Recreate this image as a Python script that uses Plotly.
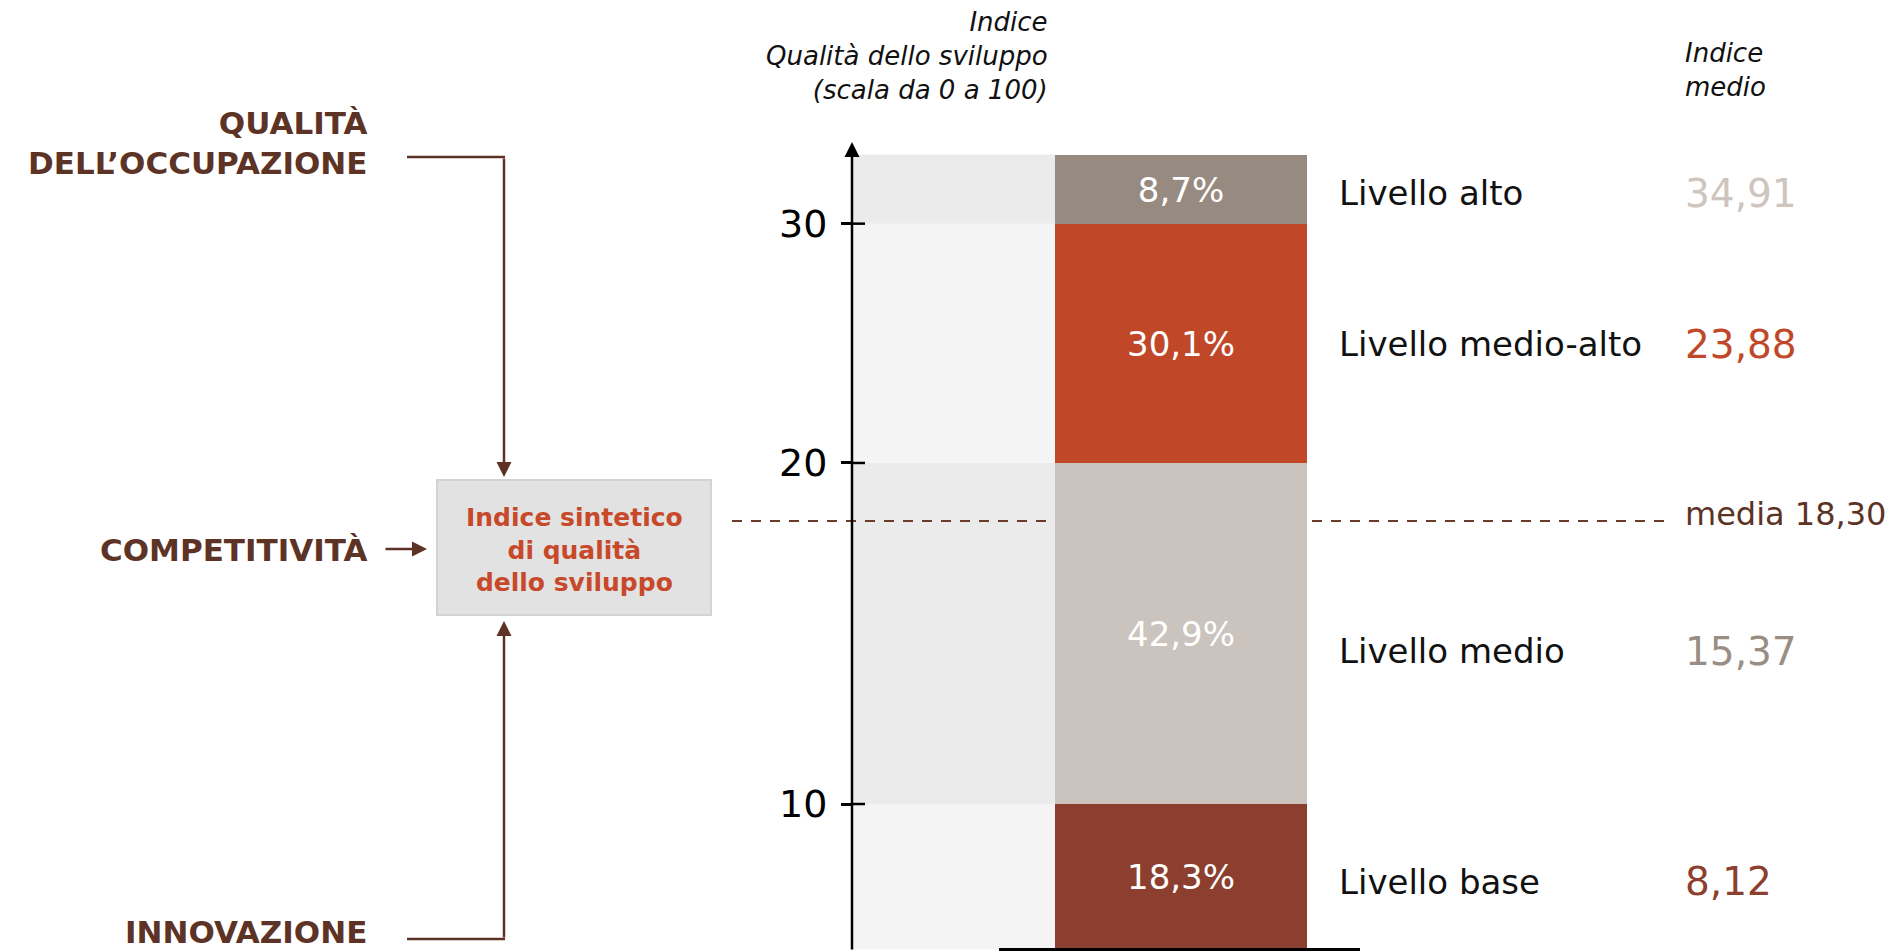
import plotly.graph_objects as go

# ---------------- data ----------------
levels = ["Livello base", "Livello medio", "Livello medio-alto", "Livello alto"]
shares = [18.3, 42.9, 30.1, 8.7]            # % of cases in each level (stack heights)
index_bounds = [10, 20, 30]                 # index thresholds between levels (tick labels)
mean_index = [8.12, 15.37, 23.88, 34.91]    # average index per level
overall_mean = 18.30
inputs = ["QUALITÀ<br>DELL’OCCUPAZIONE", "COMPETITIVITÀ", "INNOVAZIONE"]

# ---------------- styles ----------------
W, H = 1892, 951
FONT = "DejaVu Sans"
BROWN = "#5c3324"
bar_colors = ["#8d3f2f", "#cbc3bd", "#c04829", "#978b81"]
value_colors = ["#8d3f2f", "#9a8e84", "#c04829", "#cdc5be"]
band_colors = ["#f4f4f4", "#ebebeb", "#f4f4f4", "#ebebeb"]
label_yshift = [-5, -18, -1, -4]


def fmt(v, d):
    return f"{v:.{d}f}".replace(".", ",")


def px(x):
    return x / W


def py(y):
    return 1 - y / H


# cumulative boundaries of the stacked bar
cum = [0.0]
for s in shares:
    cum.append(cum[-1] + s)


# map an index value onto the stacked scale (piecewise linear between thresholds)
def index_to_stack(v):
    for i in range(len(index_bounds) - 1):
        lo, hi = index_bounds[i], index_bounds[i + 1]
        if lo <= v <= hi:
            return cum[i + 1] + (v - lo) / (hi - lo) * shares[i + 1]
    return None


mean_y = index_to_stack(overall_mean)

# y range so that 0 sits at the bottom of the page and 100 at px 154.5
bottom_px, top_px = 949.5, 154.5
unit = (bottom_px - top_px) / 100.0
r0 = -(H - bottom_px) / unit
r1 = 100 + top_px / unit

fig = go.Figure()
for i, lev in enumerate(levels):
    fig.add_trace(go.Bar(
        x=[0], y=[shares[i]], name=lev, width=1,
        marker=dict(color=bar_colors[i], line=dict(width=0)),
        text=[fmt(shares[i], 1) + "%"], textposition="inside",
        insidetextanchor="middle", constraintext="none",
        textfont=dict(family=FONT, size=34, color="white"),
        hoverinfo="skip", showlegend=False,
    ))

shapes = []
# background bands between axis and bar
for i in range(len(shares)):
    shapes.append(dict(type="rect", xref="paper", yref="y", x0=px(852), x1=px(1055),
                       y0=cum[i], y1=cum[i + 1], fillcolor=band_colors[i],
                       line=dict(width=0), layer="below"))
# inner half of ticks
for i in range(len(index_bounds)):
    shapes.append(dict(type="line", xref="paper", yref="y", x0=px(852), x1=px(865),
                       y0=cum[i + 1], y1=cum[i + 1], line=dict(color="black", width=2.5)))
# mean dashed line (two pieces)
for a, b in [(732, 1047), (1312, 1668)]:
    shapes.append(dict(type="line", xref="paper", yref="y", x0=px(a), x1=px(b),
                       y0=mean_y, y1=mean_y,
                       line=dict(color="#6b3b2c", width=2, dash="10px,9px")))
# baseline
shapes.append(dict(type="line", xref="paper", yref="y", x0=px(999), x1=px(1360),
                   y0=0, y1=0, line=dict(color="black", width=3), layer="above"))
# box
shapes.append(dict(type="rect", xref="paper", yref="paper", x0=px(437), x1=px(711),
                   y0=py(615), y1=py(480), fillcolor="#e1e2e1",
                   line=dict(color="#d2d3d2", width=2)))
# connector horizontals
for yy in (157, 939):
    shapes.append(dict(type="line", xref="paper", yref="paper", x0=px(407), x1=px(505),
                       y0=py(yy), y1=py(yy), line=dict(color=BROWN, width=2.5)))

ann = []
# y-axis with arrow
ann.append(dict(xref="paper", yref="paper", x=px(852), y=py(142), ax=0, ay=H - 142,
                showarrow=True, arrowhead=2, arrowsize=1.2, arrowwidth=2.5,
                arrowcolor="black", text=""))
# connector arrows
ann.append(dict(xref="paper", yref="paper", x=px(504), y=py(477), ax=0, ay=-(477 - 157),
                showarrow=True, arrowhead=2, arrowsize=1.2, arrowwidth=2.5,
                arrowcolor=BROWN, text=""))
ann.append(dict(xref="paper", yref="paper", x=px(504), y=py(621), ax=0, ay=(939 - 621),
                showarrow=True, arrowhead=2, arrowsize=1.2, arrowwidth=2.5,
                arrowcolor=BROWN, text=""))
ann.append(dict(xref="paper", yref="paper", x=px(427), y=py(549), ax=-43, ay=0,
                showarrow=True, arrowhead=2, arrowsize=1.2, arrowwidth=2.5,
                arrowcolor=BROWN, text=""))
# input labels
for t, yy in zip(inputs, (143.5, 550, 932)):
    ann.append(dict(xref="paper", yref="paper", x=px(369), y=py(yy), text=t,
                    showarrow=False, xanchor="right", yanchor="middle", align="right",
                    font=dict(family=FONT, size=31, color=BROWN, weight="bold")))
# box text
ann.append(dict(xref="paper", yref="paper", x=px(574), y=py(550),
                text="Indice sintetico<br>di qualità<br>dello sviluppo",
                showarrow=False, xanchor="center", yanchor="middle", align="center",
                font=dict(family=FONT, size=25, color="#c8492a", weight="bold")))
# axis title
ann.append(dict(xref="paper", yref="paper", x=px(1050), y=py(56),
                text="Indice<br>Qualità dello sviluppo<br>(scala da 0 a 100)",
                showarrow=False, xanchor="right", yanchor="middle", align="right",
                font=dict(family=FONT, size=26, color="#111111", style="italic")))
ann.append(dict(xref="paper", yref="paper", x=px(1683), y=py(70),
                text="Indice<br>medio",
                showarrow=False, xanchor="left", yanchor="middle", align="left",
                font=dict(family=FONT, size=26, color="#111111", style="italic")))
# level labels and mean values
for i, lev in enumerate(levels):
    yc = (cum[i] + cum[i + 1]) / 2
    ann.append(dict(xref="paper", yref="y", x=px(1337), y=yc, yshift=label_yshift[i],
                    text=lev, showarrow=False, xanchor="left", yanchor="middle",
                    font=dict(family=FONT, size=34, color="#111111")))
    ann.append(dict(xref="paper", yref="y", x=px(1683), y=yc, yshift=label_yshift[i],
                    text=fmt(mean_index[i], 2), showarrow=False, xanchor="left",
                    yanchor="middle",
                    font=dict(family=FONT, size=39, color=value_colors[i])))
# mean label
ann.append(dict(xref="paper", yref="y", x=px(1683), y=mean_y, yshift=7,
                text="media " + fmt(overall_mean, 2), showarrow=False,
                xanchor="left", yanchor="middle",
                font=dict(family=FONT, size=32, color=BROWN)))

fig.update_layout(
    width=W, height=H, margin=dict(l=0, r=0, t=0, b=0),
    paper_bgcolor="white", plot_bgcolor="rgba(0,0,0,0)",
    barmode="stack", bargap=0,
    xaxis=dict(domain=[px(1055), px(1307)], range=[-0.5, 0.5], visible=False,
               fixedrange=True),
    yaxis=dict(domain=[0, 1], range=[r0, r1], anchor="free", position=px(852),
               showgrid=False, zeroline=False, showline=False,
               tickmode="array", tickvals=cum[1:len(index_bounds) + 1],
               ticktext=[str(v) for v in index_bounds],
               ticks="outside", ticklen=11, tickwidth=2.5, tickcolor="black",
               ticklabelstandoff=6,
               tickfont=dict(family=FONT, size=38, color="black"), fixedrange=True),
    shapes=shapes, annotations=ann,
    font=dict(family=FONT),
)

fig.write_html("out.html")
